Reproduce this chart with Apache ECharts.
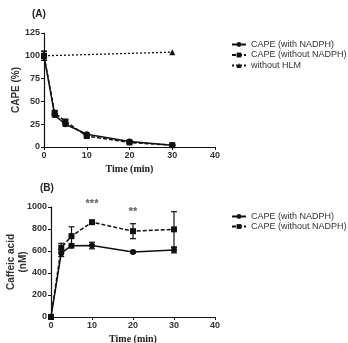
<!DOCTYPE html>
<html>
<head>
<meta charset="utf-8">
<script src="https://cdn.jsdelivr.net/npm/echarts@6/dist/echarts.min.js"></script>
<style>
    html, body { margin: 0; padding: 0; background: #fff; }
    #chart { width: 348px; height: 343px; }
</style>
</head>
<body>
<div id="chart"></div>
<script>
// panel A : CAPE remaining (%)
var timeA = [0, 2.5, 5, 10, 20, 30];
var withNadphA = [100, 35, 25, 14, 6, 2];
var withNadphAErr = [5, 2, 2, 1, 1, 0.5];
var withoutNadphA = [100, 37.5, 28, 12, 5, 2];
var withoutNadphAErr = [5, 2, 2, 1, 1, 0.5];
var timeHlm = [0, 30];
var withoutHlm = [100, 104];

// panel B : caffeic acid (nM)
var timeB = [0, 2.5, 5, 10, 20, 30];
var withNadphB = [0, 580, 648, 650, 590, 608];
var withNadphBErr = [0, 30, 20, 30, 8, 25];
var withoutNadphB = [0, 630, 735, 862, 780, 797];
var withoutNadphBErr = [0, 40, 85, 8, 68, 160];
var starsX = [10, 20];
var starsY = [1025, 955];
var starsText = ['***', '**'];

function pairs(xs, ys) {
    return xs.map(function(x, i) { return [x, ys[i]]; });
}
function errData(xs, ys, es) {
    return xs.map(function(x, i) { return [x, ys[i] - es[i], ys[i] + es[i]]; });
}
// 误差线
function errSeries(data, xi, yi) {
    return {
        type: 'custom',
        xAxisIndex: xi,
        yAxisIndex: yi,
        silent: true,
        z: 3,
        data: data,
        renderItem: function(params, api) {
            var lo = api.coord([api.value(0), api.value(1)]);
            var hi = api.coord([api.value(0), api.value(2)]);
            var w = 3;
            var st = { stroke: '#111', lineWidth: 1.2 };
            return {
                type: 'group',
                children: [
                    { type: 'line', shape: { x1: lo[0], y1: lo[1], x2: hi[0], y2: hi[1] }, style: st },
                    { type: 'line', shape: { x1: lo[0] - w, y1: lo[1], x2: lo[0] + w, y2: lo[1] }, style: st },
                    { type: 'line', shape: { x1: hi[0] - w, y1: hi[1], x2: hi[0] + w, y2: hi[1] }, style: st }
                ]
            };
        }
    };
}

var axisFont = {
    fontFamily: 'Liberation Sans', fontSize: 9, fontWeight: 'bold', color: '#333',
    formatter: function(v) { return String(v); }
};
var axisLine = { lineStyle: { color: '#111', width: 1.2 } };

function xAxisCfg(gi) {
    return {
        gridIndex: gi,
        type: 'value',
        min: 0, max: 40, interval: 10,
        name: 'Time (min)',
        nameLocation: 'middle',
        nameGap: 17,
        nameTextStyle: { fontFamily: 'Liberation Serif', fontSize: 10, fontWeight: 'bold', color: '#222' },
        axisLine: axisLine,
        axisTick: { show: true, length: 3, lineStyle: { color: '#111' } },
        axisLabel: Object.assign({ margin: 4 }, axisFont),
        splitLine: { show: false }
    };
}

var chart = echarts.init(document.getElementById('chart'));
var lineBlack = '#111';
var legendText = { fontFamily: 'Liberation Sans', fontSize: 9, color: '#333' };

var option = {
    animation: false,
    backgroundColor: '#fff',
    title: [
        { text: '(A)', left: 27, top: 4, textStyle: { fontFamily: 'Liberation Sans', fontSize: 10, fontWeight: 'bold', color: '#222' } },
        { text: '(B)', left: 35, top: 178, textStyle: { fontFamily: 'Liberation Sans', fontSize: 10, fontWeight: 'bold', color: '#222' } }
    ],
    grid: [
        { left: 44, top: 33, right: 133, bottom: 196, outerBoundsMode: 'none' },
        { left: 51, top: 207, right: 133, bottom: 26, outerBoundsMode: 'none' }
    ],
    legend: [
        {
            left: 226, top: 35, orient: 'vertical', itemGap: 1.5, itemWidth: 14, itemHeight: 6,
            data: ['CAPE (with NADPH)', 'CAPE (without NADPH)', 'without HLM'],
            textStyle: legendText
        },
        {
            left: 226, top: 207, orient: 'vertical', itemGap: 1, itemWidth: 14, itemHeight: 6,
            data: ['CAPE (with NADPH)', 'CAPE (without NADPH)'],
            textStyle: legendText
        }
    ],
    xAxis: [xAxisCfg(0), xAxisCfg(1)],
    yAxis: [
        {
            gridIndex: 0, type: 'value', min: 0, max: 125, interval: 25,
            name: 'CAPE (%)', nameLocation: 'middle', nameGap: 22,
            nameTextStyle: { fontFamily: 'Liberation Sans', fontSize: 10, fontWeight: 'bold', color: '#333' },
            axisLine: axisLine,
            axisTick: { show: true, length: 3, lineStyle: { color: '#111' } },
            axisLabel: Object.assign({ margin: 4 }, axisFont),
            splitLine: { show: false }
        },
        {
            gridIndex: 1, type: 'value', min: 0, max: 1000, interval: 200,
            name: 'Caffeic acid\n(nM)', nameLocation: 'middle', nameGap: 22, nameMoveOverlap: false,
            nameTextStyle: { fontFamily: 'Liberation Sans', fontSize: 10, fontWeight: 'bold', color: '#333', lineHeight: 12 },
            axisLine: axisLine,
            axisTick: { show: true, length: 3, lineStyle: { color: '#111' } },
            axisLabel: Object.assign({ margin: 4 }, axisFont),
            splitLine: { show: false }
        }
    ],
    series: [
        {
            name: 'CAPE (with NADPH)', type: 'line', xAxisIndex: 0, yAxisIndex: 0,
            data: pairs(timeA, withNadphA),
            symbol: 'circle', symbolSize: 6,
            lineStyle: { color: lineBlack, width: 1.5 }, itemStyle: { color: lineBlack }
        },
        {
            name: 'CAPE (without NADPH)', type: 'line', xAxisIndex: 0, yAxisIndex: 0,
            data: pairs(timeA, withoutNadphA),
            symbol: 'rect', symbolSize: 6,
            lineStyle: { color: lineBlack, width: 1.5, type: [4, 2] }, itemStyle: { color: lineBlack }
        },
        {
            name: 'without HLM', type: 'line', xAxisIndex: 0, yAxisIndex: 0,
            data: pairs(timeHlm, withoutHlm),
            symbol: 'triangle', symbolSize: 6,
            lineStyle: { color: lineBlack, width: 1.3, type: [2, 2] }, itemStyle: { color: lineBlack }
        },
        errSeries(errData(timeA, withNadphA, withNadphAErr), 0, 0),
        errSeries(errData(timeA, withoutNadphA, withoutNadphAErr), 0, 0),
        {
            name: 'CAPE (with NADPH)', type: 'line', xAxisIndex: 1, yAxisIndex: 1,
            data: pairs(timeB, withNadphB),
            symbol: 'circle', symbolSize: 6,
            lineStyle: { color: lineBlack, width: 1.5 }, itemStyle: { color: lineBlack }
        },
        {
            name: 'CAPE (without NADPH)', type: 'line', xAxisIndex: 1, yAxisIndex: 1,
            data: pairs(timeB, withoutNadphB),
            symbol: 'rect', symbolSize: 6,
            lineStyle: { color: lineBlack, width: 1.5, type: [4, 2] }, itemStyle: { color: lineBlack }
        },
        errSeries(errData(timeB, withNadphB, withNadphBErr), 1, 1),
        errSeries(errData(timeB, withoutNadphB, withoutNadphBErr), 1, 1),
        // 显著性星号
        {
            type: 'scatter', xAxisIndex: 1, yAxisIndex: 1, silent: true,
            symbolSize: 0, clip: false,
            data: starsX.map(function(x, i) { return { value: [x, starsY[i]], label: { formatter: starsText[i] } }; }),
            label: { show: true, position: 'inside', fontFamily: 'Liberation Sans', fontSize: 11, fontWeight: 'bold', color: '#333' }
        }
    ]
};
chart.setOption(option);
</script>
</body>
</html>
